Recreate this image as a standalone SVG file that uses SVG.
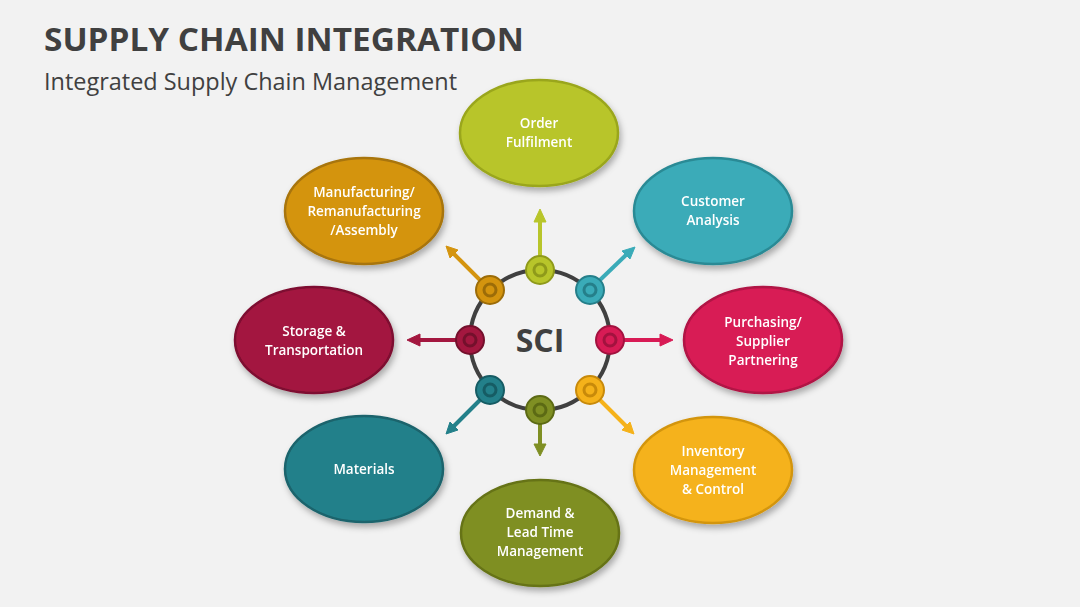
<svg xmlns="http://www.w3.org/2000/svg" width="1080" height="607" viewBox="0 0 1080 607">
<style>
.t{font-family:"Open Sans","Liberation Sans",sans-serif;fill:#fff;font-size:13.5px;text-anchor:middle;font-weight:600}
.e{stroke-width:2.5}
.a{stroke-width:4;fill:none}
</style>
<defs>
<filter id="sh" x="-20%" y="-20%" width="140%" height="150%"><feDropShadow dx="2" dy="4" stdDeviation="3" flood-color="#000" flood-opacity="0.3"/></filter>
</defs>
<rect width="1080" height="607" fill="#f2f2f2"/>
<text x="44" y="51" font-family="'Open Sans','Liberation Sans',sans-serif" font-weight="700" font-size="33" fill="#404040" textLength="480" lengthAdjust="spacingAndGlyphs">SUPPLY CHAIN INTEGRATION</text>
<text x="44" y="90" font-family="'Open Sans','Liberation Sans',sans-serif" font-size="23" fill="#404040" textLength="413" lengthAdjust="spacingAndGlyphs">Integrated Supply Chain Management</text>
<g id="connectors">
<circle cx="540" cy="340" r="70" fill="none" stroke="#404040" stroke-width="4"/>
<g stroke="#b8c52a" fill="#b8c52a"><line class="a" x1="540" y1="256" x2="540" y2="220"/><polygon points="534,222 546,222 540,209"/></g>
<g stroke="#3aabb8" fill="#3aabb8"><line class="a" x1="600" y1="280" x2="627" y2="254"/><polygon points="622,251 630,259 635,247"/></g>
<g stroke="#d81b55" fill="#d81b55"><line class="a" x1="624" y1="340" x2="662" y2="340"/><polygon points="660,334 660,346 673,340"/></g>
<g stroke="#f5b21a" fill="#f5b21a"><line class="a" x1="600" y1="400" x2="626" y2="426"/><polygon points="622,430 630,422 634,434"/></g>
<g stroke="#7f8f23" fill="#7f8f23"><line class="a" x1="540" y1="424" x2="540" y2="446"/><polygon points="534,444 546,444 540,456"/></g>
<g stroke="#23808a" fill="#23808a"><line class="a" x1="480" y1="400" x2="454" y2="426"/><polygon points="450,422 458,430 446,434"/></g>
<g stroke="#a3173f" fill="#a3173f"><line class="a" x1="456" y1="340" x2="418" y2="340"/><polygon points="420,334 420,346 407,340"/></g>
<g stroke="#d4940e" fill="#d4940e"><line class="a" x1="480" y1="280" x2="454" y2="254"/><polygon points="450,258 458,250 446,246"/></g>
</g>
<g id="hub">
<text x="540" y="352" font-family="'Open Sans','Liberation Sans',sans-serif" font-weight="700" font-size="32" fill="#404040" text-anchor="middle">SCI</text>
<g stroke-width="2">
<circle cx="540" cy="270" r="14" fill="#b8c52a" stroke="#8f9a1a"/><circle cx="540" cy="270" r="6" fill="none" stroke="#8f9a1a" stroke-width="3"/>
<circle cx="590" cy="290" r="14" fill="#3aabb8" stroke="#257f8a"/><circle cx="590" cy="290" r="6" fill="none" stroke="#257f8a" stroke-width="3"/>
<circle cx="610" cy="340" r="14" fill="#d81b55" stroke="#a3123f"/><circle cx="610" cy="340" r="6" fill="none" stroke="#a3123f" stroke-width="3"/>
<circle cx="590" cy="390" r="14" fill="#f5b21a" stroke="#c88a0a"/><circle cx="590" cy="390" r="6" fill="none" stroke="#c88a0a" stroke-width="3"/>
<circle cx="540" cy="410" r="14" fill="#7f8f23" stroke="#5c6a14"/><circle cx="540" cy="410" r="6" fill="none" stroke="#5c6a14" stroke-width="3"/>
<circle cx="490" cy="390" r="14" fill="#23808a" stroke="#165c64"/><circle cx="490" cy="390" r="6" fill="none" stroke="#165c64" stroke-width="3"/>
<circle cx="470" cy="340" r="14" fill="#a3173f" stroke="#74102c"/><circle cx="470" cy="340" r="6" fill="none" stroke="#74102c" stroke-width="3"/>
<circle cx="490" cy="290" r="14" fill="#d4940e" stroke="#9c6c08"/><circle cx="490" cy="290" r="6" fill="none" stroke="#9c6c08" stroke-width="3"/>
</g>
</g>
<g id="order" filter="url(#sh)"><ellipse class="e" cx="539" cy="133" rx="79" ry="53" fill="#b8c52a" stroke="#9aa61c"/><text class="t" x="539" y="128">Order</text><text class="t" x="539" y="147">Fulfilment</text></g>
<g id="customer" filter="url(#sh)"><ellipse class="e" cx="713" cy="211" rx="79" ry="53" fill="#3aabb8" stroke="#2a8a95"/><text class="t" x="713" y="206">Customer</text><text class="t" x="713" y="225">Analysis</text></g>
<g id="purchasing" filter="url(#sh)"><ellipse class="e" cx="763" cy="340" rx="79" ry="53" fill="#d81b55" stroke="#b01244"/><text class="t" x="763" y="327">Purchasing/</text><text class="t" x="763" y="346">Supplier</text><text class="t" x="763" y="365">Partnering</text></g>
<g id="inventory" filter="url(#sh)"><ellipse class="e" cx="713" cy="470" rx="79" ry="53" fill="#f5b21a" stroke="#d39510"/><text class="t" x="713" y="456">Inventory</text><text class="t" x="713" y="475">Management</text><text class="t" x="713" y="494">&amp; Control</text></g>
<g id="demand" filter="url(#sh)"><ellipse class="e" cx="540" cy="533" rx="79" ry="53" fill="#7f8f23" stroke="#667318"/><text class="t" x="540" y="518">Demand &amp;</text><text class="t" x="540" y="537">Lead Time</text><text class="t" x="540" y="556">Management</text></g>
<g id="materials" filter="url(#sh)"><ellipse class="e" cx="364" cy="469" rx="79" ry="53" fill="#23808a" stroke="#1a646c"/><text class="t" x="364" y="474">Materials</text></g>
<g id="storage" filter="url(#sh)"><ellipse class="e" cx="314" cy="340" rx="79" ry="53" fill="#a3173f" stroke="#7e1030"/><text class="t" x="314" y="336">Storage &amp;</text><text class="t" x="314" y="355">Transportation</text></g>
<g id="manufacturing" filter="url(#sh)"><ellipse class="e" cx="364" cy="211" rx="79" ry="53" fill="#d4940e" stroke="#a87408"/><text class="t" x="364" y="197">Manufacturing/</text><text class="t" x="364" y="216">Remanufacturing</text><text class="t" x="364" y="235">/Assembly</text></g>
</svg>
